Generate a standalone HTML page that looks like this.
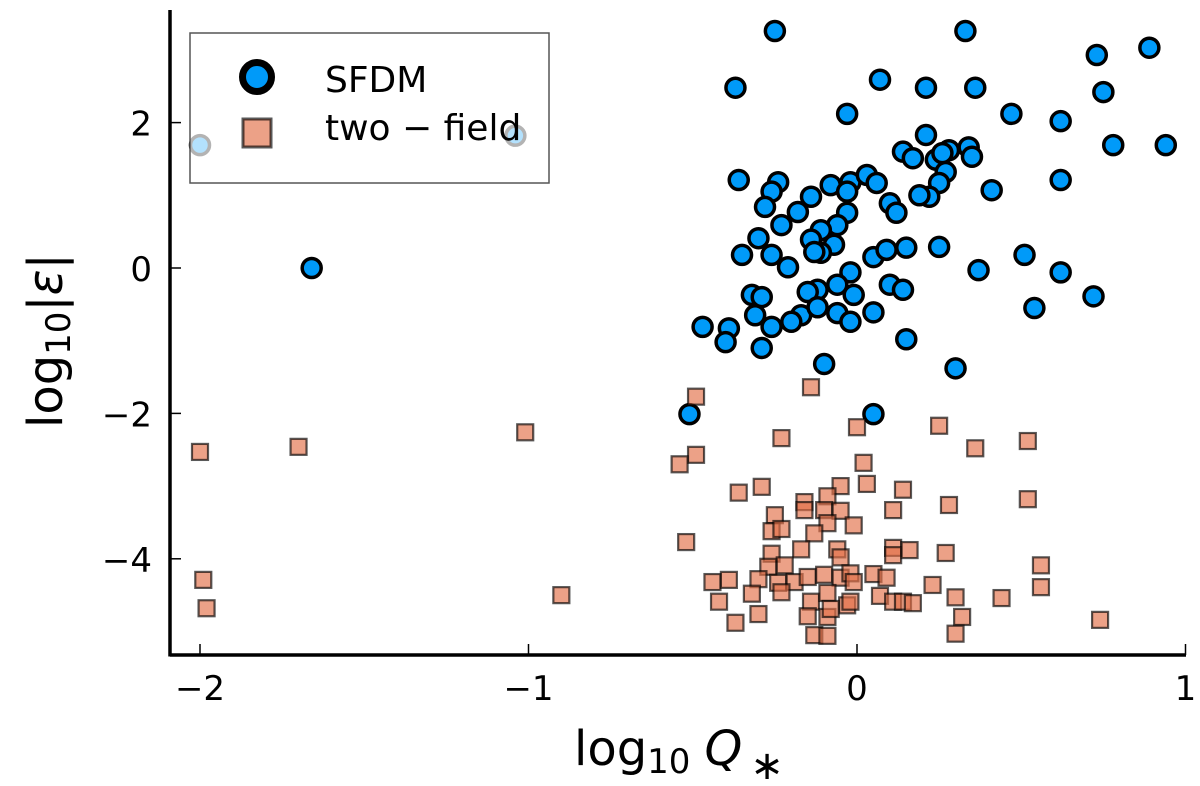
<!DOCTYPE html>
<html><head><meta charset="utf-8"><style>
html,body{margin:0;padding:0;background:#fff;}
svg{display:block;font-family:"DejaVu Sans","Liberation Sans",sans-serif;}
</style></head><body>
<svg id="chart" width="1200" height="786" viewBox="0 0 1200 786" xmlns="http://www.w3.org/2000/svg" style="position:absolute;left:0;top:0">
<g id="marks"></g>
<g id="axes"></g>
</svg>
<script>
const xTicks = [-2, -1, 0, 1];
const yTicks = [-4, -2, 0, 2];
const sfdmX = [-2.00,-1.04,-1.66,-0.51,0.05,-0.25,0.33,-0.37,0.07,0.36,0.73,0.89,0.75,-0.03,0.21,0.47,0.62,0.78,0.94,0.41,0.62,0.21,0.14,0.17,0.24,0.28,0.26,0.34,0.35,0.27,0.25,0.22,0.19,-0.36,-0.24,-0.26,-0.28,-0.14,-0.08,-0.02,-0.03,0.03,0.06,0.10,0.12,-0.18,-0.23,-0.03,-0.06,-0.11,-0.30,-0.14,-0.07,-0.11,-0.13,-0.35,-0.26,-0.21,0.05,0.09,0.15,0.25,-0.02,-0.06,-0.01,-0.12,-0.15,-0.32,-0.29,0.10,0.14,-0.31,-0.17,-0.20,-0.12,-0.06,-0.02,0.05,-0.26,-0.47,-0.39,-0.40,-0.29,0.15,-0.10,0.30,0.37,0.51,0.62,0.54,0.72];
const sfdmY = [1.69,1.82,0,-2.01,-2.01,3.26,3.26,2.48,2.59,2.48,2.93,3.03,2.42,2.12,2.48,2.12,2.02,1.69,1.69,1.07,1.21,1.83,1.60,1.51,1.49,1.62,1.58,1.66,1.53,1.32,1.17,0.98,1.00,1.21,1.18,1.05,0.84,0.98,1.14,1.18,1.05,1.28,1.17,0.89,0.76,0.77,0.59,0.76,0.59,0.52,0.41,0.39,0.32,0.21,0.22,0.18,0.18,0.01,0.15,0.25,0.28,0.29,-0.06,-0.23,-0.37,-0.30,-0.33,-0.37,-0.40,-0.23,-0.30,-0.65,-0.65,-0.74,-0.54,-0.62,-0.74,-0.61,-0.81,-0.81,-0.83,-1.02,-1.10,-0.98,-1.32,-1.38,-0.03,0.18,-0.06,-0.55,-0.39];
const twoX = [-2.00,-1.99,-1.98,-1.70,-1.01,-0.90,-0.49,-0.14,-0.23,0.00,0.25,0.36,0.52,-0.49,-0.54,0.02,-0.36,-0.29,-0.05,0.03,0.14,0.28,0.52,-0.16,-0.09,-0.16,-0.10,-0.05,-0.25,0.11,-0.09,-0.01,-0.26,-0.23,-0.13,-0.52,-0.17,-0.06,-0.05,0.11,0.11,0.16,0.27,-0.26,-0.27,-0.22,0.56,-0.44,-0.39,-0.30,-0.24,-0.19,-0.15,-0.10,-0.05,-0.02,-0.01,0.05,0.09,0.23,0.56,-0.42,-0.32,-0.23,-0.14,-0.09,-0.03,-0.02,0.07,0.11,0.14,0.17,0.30,0.44,-0.37,-0.30,-0.15,-0.09,-0.08,0.32,-0.13,-0.09,0.30,0.74];
const twoY = [-2.53,-4.29,-4.68,-2.46,-2.26,-4.50,-1.77,-1.64,-2.34,-2.19,-2.17,-2.48,-2.38,-2.57,-2.70,-2.68,-3.09,-3.01,-3.00,-2.97,-3.05,-3.26,-3.18,-3.22,-3.14,-3.33,-3.33,-3.34,-3.40,-3.33,-3.51,-3.54,-3.62,-3.59,-3.65,-3.77,-3.87,-3.87,-3.98,-3.85,-3.95,-3.88,-3.92,-3.93,-4.11,-4.09,-4.09,-4.32,-4.29,-4.28,-4.33,-4.32,-4.25,-4.22,-4.26,-4.20,-4.32,-4.21,-4.26,-4.36,-4.39,-4.59,-4.48,-4.46,-4.59,-4.47,-4.64,-4.59,-4.51,-4.59,-4.59,-4.61,-4.53,-4.54,-4.88,-4.76,-4.79,-4.80,-4.69,-4.80,-5.05,-5.06,-5.03,-4.84];

const NS = 'http://www.w3.org/2000/svg';
const X0 = 170, X1 = 1186, Y0 = 655, Y1 = 10;
function xs(v){ return 857 + 328.5 * v; }
function ys(v){ return 268 - 72.7 * v; }
function mk(tag, attrs, parent){
  const e = document.createElementNS(NS, tag);
  for (const k in attrs) e.setAttribute(k, attrs[k]);
  parent.appendChild(e);
  return e;
}
const marks = document.getElementById('marks');
const axes = document.getElementById('axes');

for (let i = 0; i < sfdmX.length; i++) {
  const c = mk('circle', {cx: xs(sfdmX[i]), cy: ys(sfdmY[i]), r: 9.5, fill: '#009af9', stroke: '#000', 'stroke-width': 3.5}, marks);
  
  
}
for (let i = 0; i < twoX.length; i++) {
  const s = mk('rect', {x: xs(twoX[i]) - 8, y: ys(twoY[i]) - 8, width: 16, height: 16, fill: '#e26f46', 'fill-opacity': 0.65, stroke: '#000', 'stroke-opacity': 0.65, 'stroke-width': 2.2}, marks);
  
  
}

const ax = mk('line', {x1: X0, y1: Y0, x2: X1, y2: Y0, stroke: '#000', 'stroke-width': 3.5}, axes);


const ay = mk('line', {x1: X0, y1: Y0 + 1.5, x2: X0, y2: Y1, stroke: '#000', 'stroke-width': 3.5}, axes);


xTicks.forEach(t => {
  const x = xs(t);
  mk('line', {x1: x, y1: Y0, x2: x, y2: Y0 - 11, stroke: '#000', 'stroke-width': 1.5}, axes);
  const tl = mk('text', {x: x, y: 700, 'font-size': 34, 'text-anchor': 'middle', fill: '#000'}, axes);
  tl.textContent = t < 0 ? '\u2212' + Math.abs(t) : String(t);
  
  
});
yTicks.forEach(t => {
  const y = ys(t);
  mk('line', {x1: X0, y1: y, x2: X0 + 11, y2: y, stroke: '#000', 'stroke-width': 1.5}, axes);
  const tl = mk('text', {x: 152, y: y + 13, 'font-size': 34, 'text-anchor': 'end', fill: '#000'}, axes);
  tl.textContent = t < 0 ? '\u2212' + Math.abs(t) : String(t);
  
  
});
</script>
<svg style="position:absolute;left:0;top:0" width="1200" height="786" font-family="DejaVu Sans, sans-serif">
  <text x="574" y="765" font-size="48">log<tspan font-size="34" dy="8">10</tspan><tspan dy="-8" dx="14" font-style="italic">Q</tspan><tspan font-size="40" dy="14" dx="8">∗</tspan></text>
  <text transform="translate(62,428) rotate(-90)" font-size="48">log<tspan font-size="34" dy="8">10</tspan><tspan dy="-8">|</tspan><tspan font-style="italic">ε</tspan>|</text>
  <rect x="190" y="33" width="359" height="150" fill="#fff" fill-opacity="0.7" stroke="#555" stroke-width="1.5"/>
  <circle cx="257" cy="77" r="14.5" fill="#009af9" stroke="#000" stroke-width="7"/>
  <text x="325" y="92" font-size="36">SFDM</text>
  <rect x="243" y="119" width="28" height="28" fill="#e26f46" fill-opacity="0.65" stroke="#000" stroke-opacity="0.65" stroke-width="3"/>
  <text x="325" y="140" font-size="36">two − field</text>
</svg>
</body></html>
